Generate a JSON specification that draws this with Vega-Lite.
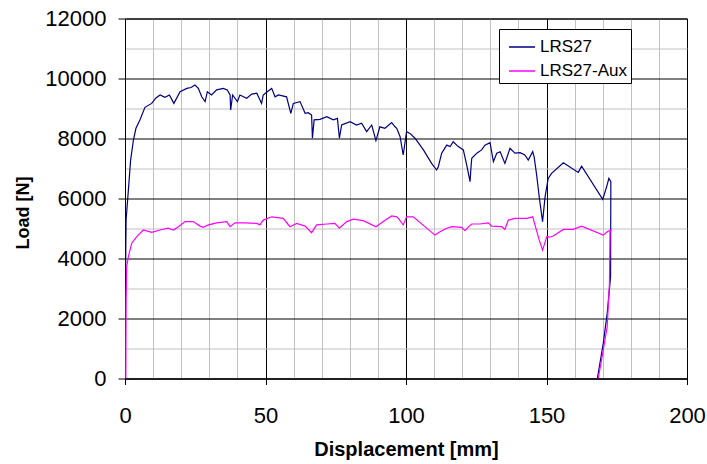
{
  "$schema": "https://vega.github.io/schema/vega-lite/v6.json",
  "width": 562,
  "height": 360,
  "autosize": "none",
  "padding": {"left": 125, "top": 18.5, "right": 20, "bottom": 85.5},
  "background": "white",
  "config": {
    "font": "Liberation Sans",
    "view": {"stroke": "black", "strokeWidth": 1}
  },
  "datasets": {
    "main": [
      {"s":"LRS27","x":0,"y":0},{"s":"LRS27","x":0.15,"y":2000},{"s":"LRS27","x":0.25,"y":4000},{"s":"LRS27","x":0.4,"y":5300},
      {"s":"LRS27","x":1.2,"y":6280},{"s":"LRS27","x":2.0,"y":7280},{"s":"LRS27","x":3.0,"y":7950},{"s":"LRS27","x":3.9,"y":8340},
      {"s":"LRS27","x":5.3,"y":8620},{"s":"LRS27","x":7.1,"y":9040},{"s":"LRS27","x":9.5,"y":9170},{"s":"LRS27","x":11,"y":9350},
      {"s":"LRS27","x":12.5,"y":9450},{"s":"LRS27","x":14.2,"y":9370},{"s":"LRS27","x":15.8,"y":9450},{"s":"LRS27","x":17.4,"y":9170},
      {"s":"LRS27","x":19.6,"y":9560},{"s":"LRS27","x":22,"y":9670},{"s":"LRS27","x":23.5,"y":9700},{"s":"LRS27","x":24.9,"y":9780},
      {"s":"LRS27","x":26.1,"y":9670},{"s":"LRS27","x":27.3,"y":9390},{"s":"LRS27","x":28.5,"y":9230},{"s":"LRS27","x":29.3,"y":9560},
      {"s":"LRS27","x":30.8,"y":9450},{"s":"LRS27","x":32.6,"y":9620},{"s":"LRS27","x":35,"y":9670},{"s":"LRS27","x":36.4,"y":9620},
      {"s":"LRS27","x":37.4,"y":9450},{"s":"LRS27","x":37.6,"y":8950},{"s":"LRS27","x":38.3,"y":9450},{"s":"LRS27","x":40,"y":9230},
      {"s":"LRS27","x":40.9,"y":9450},{"s":"LRS27","x":43.3,"y":9340},{"s":"LRS27","x":45.1,"y":9480},{"s":"LRS27","x":46.9,"y":9510},
      {"s":"LRS27","x":48.6,"y":9170},{"s":"LRS27","x":49.2,"y":9450},{"s":"LRS27","x":50.5,"y":9550},{"s":"LRS27","x":52.2,"y":9670},
      {"s":"LRS27","x":53.4,"y":9390},{"s":"LRS27","x":54.6,"y":9450},{"s":"LRS27","x":57.5,"y":9390},{"s":"LRS27","x":59,"y":8840},
      {"s":"LRS27","x":59.9,"y":9170},{"s":"LRS27","x":62.3,"y":9230},{"s":"LRS27","x":64.1,"y":8840},{"s":"LRS27","x":65.2,"y":8860},
      {"s":"LRS27","x":66.4,"y":8780},{"s":"LRS27","x":66.7,"y":8010},{"s":"LRS27","x":67.3,"y":8620},{"s":"LRS27","x":69.4,"y":8640},
      {"s":"LRS27","x":71.8,"y":8730},{"s":"LRS27","x":74.1,"y":8620},{"s":"LRS27","x":75.6,"y":8670},{"s":"LRS27","x":76.3,"y":8010},
      {"s":"LRS27","x":77.1,"y":8450},{"s":"LRS27","x":80.1,"y":8560},{"s":"LRS27","x":82.4,"y":8450},{"s":"LRS27","x":84.2,"y":8510},
      {"s":"LRS27","x":86,"y":8230},{"s":"LRS27","x":87.8,"y":8450},{"s":"LRS27","x":89.3,"y":7930},{"s":"LRS27","x":90.7,"y":8390},
      {"s":"LRS27","x":92.5,"y":8340},{"s":"LRS27","x":94.9,"y":8530},{"s":"LRS27","x":96.1,"y":8390},{"s":"LRS27","x":96.7,"y":8340},
      {"s":"LRS27","x":97.9,"y":8060},{"s":"LRS27","x":99,"y":7450},{"s":"LRS27","x":100.2,"y":8230},{"s":"LRS27","x":101.4,"y":8170},
      {"s":"LRS27","x":103.2,"y":8010},{"s":"LRS27","x":106.2,"y":7620},{"s":"LRS27","x":109.1,"y":7170},{"s":"LRS27","x":110.9,"y":6950},
      {"s":"LRS27","x":111.5,"y":7060},{"s":"LRS27","x":112.7,"y":7510},{"s":"LRS27","x":114.5,"y":7780},{"s":"LRS27","x":115.7,"y":7730},
      {"s":"LRS27","x":116.8,"y":7890},{"s":"LRS27","x":118.6,"y":7730},{"s":"LRS27","x":120.4,"y":7620},{"s":"LRS27","x":121.6,"y":7120},
      {"s":"LRS27","x":122.8,"y":6560},{"s":"LRS27","x":123.1,"y":7000},{"s":"LRS27","x":123.4,"y":7340},{"s":"LRS27","x":125.2,"y":7510},
      {"s":"LRS27","x":126.9,"y":7620},{"s":"LRS27","x":128.1,"y":7780},{"s":"LRS27","x":129.9,"y":7860},{"s":"LRS27","x":131.1,"y":7230},
      {"s":"LRS27","x":132.3,"y":7510},{"s":"LRS27","x":133.5,"y":7560},{"s":"LRS27","x":135.2,"y":7170},{"s":"LRS27","x":137,"y":7670},
      {"s":"LRS27","x":138.8,"y":7510},{"s":"LRS27","x":140.6,"y":7530},{"s":"LRS27","x":142.3,"y":7450},{"s":"LRS27","x":143.5,"y":7280},
      {"s":"LRS27","x":145.1,"y":7560},{"s":"LRS27","x":145.6,"y":7390},{"s":"LRS27","x":146.5,"y":6780},{"s":"LRS27","x":147.4,"y":6060},
      {"s":"LRS27","x":148.6,"y":5230},{"s":"LRS27","x":149.5,"y":6060},{"s":"LRS27","x":150.1,"y":6390},{"s":"LRS27","x":150.6,"y":6670},
      {"s":"LRS27","x":151.8,"y":6840},{"s":"LRS27","x":156,"y":7190},{"s":"LRS27","x":161.3,"y":6870},{"s":"LRS27","x":162.5,"y":7080},
      {"s":"LRS27","x":170,"y":5970},{"s":"LRS27","x":171.4,"y":6390},{"s":"LRS27","x":172.2,"y":6670},{"s":"LRS27","x":172.9,"y":6560},
      {"s":"LRS27","x":172.8,"y":3390},{"s":"LRS27","x":171.6,"y":2170},{"s":"LRS27","x":170.2,"y":1170},{"s":"LRS27","x":168.1,"y":0},

      {"s":"LRS27-Aux","x":0.3,"y":0},{"s":"LRS27-Aux","x":0.35,"y":1500},{"s":"LRS27-Aux","x":0.4,"y":2620},{"s":"LRS27-Aux","x":0.6,"y":3730},
      {"s":"LRS27-Aux","x":1.2,"y":4060},{"s":"LRS27-Aux","x":2.4,"y":4510},{"s":"LRS27-Aux","x":4.2,"y":4730},{"s":"LRS27-Aux","x":6.5,"y":4950},
      {"s":"LRS27-Aux","x":9.5,"y":4870},{"s":"LRS27-Aux","x":12.5,"y":4950},{"s":"LRS27-Aux","x":15.4,"y":5010},{"s":"LRS27-Aux","x":17.2,"y":4950},
      {"s":"LRS27-Aux","x":19,"y":5060},{"s":"LRS27-Aux","x":21.4,"y":5230},{"s":"LRS27-Aux","x":24.3,"y":5230},{"s":"LRS27-Aux","x":26.7,"y":5080},
      {"s":"LRS27-Aux","x":27.8,"y":5040},{"s":"LRS27-Aux","x":29.7,"y":5120},{"s":"LRS27-Aux","x":32.6,"y":5190},{"s":"LRS27-Aux","x":36.2,"y":5230},
      {"s":"LRS27-Aux","x":37.4,"y":5060},{"s":"LRS27-Aux","x":39.1,"y":5190},{"s":"LRS27-Aux","x":42.7,"y":5190},{"s":"LRS27-Aux","x":46.9,"y":5170},
      {"s":"LRS27-Aux","x":48,"y":5120},{"s":"LRS27-Aux","x":49.2,"y":5280},{"s":"LRS27-Aux","x":52.2,"y":5390},{"s":"LRS27-Aux","x":56.3,"y":5340},
      {"s":"LRS27-Aux","x":58.7,"y":5060},{"s":"LRS27-Aux","x":61.1,"y":5170},{"s":"LRS27-Aux","x":64.1,"y":5080},{"s":"LRS27-Aux","x":66.4,"y":4860},
      {"s":"LRS27-Aux","x":68.2,"y":5120},{"s":"LRS27-Aux","x":71.8,"y":5150},{"s":"LRS27-Aux","x":74.7,"y":5170},{"s":"LRS27-Aux","x":76.3,"y":5010},
      {"s":"LRS27-Aux","x":78.9,"y":5230},{"s":"LRS27-Aux","x":81.3,"y":5310},{"s":"LRS27-Aux","x":84.8,"y":5260},{"s":"LRS27-Aux","x":89.3,"y":5060},
      {"s":"LRS27-Aux","x":91.9,"y":5230},{"s":"LRS27-Aux","x":94.9,"y":5420},{"s":"LRS27-Aux","x":96.7,"y":5390},{"s":"LRS27-Aux","x":97.3,"y":5340},
      {"s":"LRS27-Aux","x":99,"y":5120},{"s":"LRS27-Aux","x":100.2,"y":5390},{"s":"LRS27-Aux","x":102.6,"y":5390},{"s":"LRS27-Aux","x":110.3,"y":4780},
      {"s":"LRS27-Aux","x":112.1,"y":4890},{"s":"LRS27-Aux","x":114.5,"y":5010},{"s":"LRS27-Aux","x":116.3,"y":5060},{"s":"LRS27-Aux","x":119.8,"y":5040},
      {"s":"LRS27-Aux","x":121,"y":4930},{"s":"LRS27-Aux","x":122.5,"y":5080},{"s":"LRS27-Aux","x":123.4,"y":5150},{"s":"LRS27-Aux","x":126.3,"y":5150},
      {"s":"LRS27-Aux","x":129.3,"y":5190},{"s":"LRS27-Aux","x":130.5,"y":5080},{"s":"LRS27-Aux","x":134.1,"y":5060},{"s":"LRS27-Aux","x":135.2,"y":4970},
      {"s":"LRS27-Aux","x":136.4,"y":5280},{"s":"LRS27-Aux","x":138.8,"y":5340},{"s":"LRS27-Aux","x":143,"y":5340},{"s":"LRS27-Aux","x":145.1,"y":5390},
      {"s":"LRS27-Aux","x":145.9,"y":5120},{"s":"LRS27-Aux","x":147.4,"y":4620},{"s":"LRS27-Aux","x":148.6,"y":4280},{"s":"LRS27-Aux","x":150.1,"y":4730},
      {"s":"LRS27-Aux","x":151.2,"y":4710},{"s":"LRS27-Aux","x":152.4,"y":4750},{"s":"LRS27-Aux","x":156,"y":4970},{"s":"LRS27-Aux","x":159.5,"y":4970},
      {"s":"LRS27-Aux","x":162.5,"y":5080},{"s":"LRS27-Aux","x":170.2,"y":4780},{"s":"LRS27-Aux","x":171.6,"y":4890},{"s":"LRS27-Aux","x":172.8,"y":4950},
      {"s":"LRS27-Aux","x":172.6,"y":4890},{"s":"LRS27-Aux","x":172.4,"y":3170},{"s":"LRS27-Aux","x":171.6,"y":1730},{"s":"LRS27-Aux","x":169.6,"y":620},
      {"s":"LRS27-Aux","x":168.4,"y":0}
    ]
  },
  "data": {"name": "main"},
  "encoding": {
    "x": {
      "field": "x", "type": "quantitative",
      "scale": {"domain": [0, 200], "nice": false, "zero": false},
      "axis": {
        "title": "Displacement [mm]",
        "values": [0,10,20,30,40,50,60,70,80,90,100,110,120,130,140,150,160,170,180,190,200],
        "format": "d",
        "labelExpr": "datum.value % 50 === 0 ? datum.label : ''",
        "labelFont": "Liberation Sans", "labelFontSize": 22, "labelColor": "black",
        "labelBaseline": "alphabetic", "labelPadding": 38, "labelFlush": false, "labelOverlap": false,
        "tickSize": 6,
        "tickColor": {"condition": {"test": "datum.value % 50 === 0", "value": "black"}, "value": "transparent"},
        "domainColor": "black",
        "grid": true,
        "gridColor": {"condition": {"test": "datum.value % 50 === 0", "value": "#000000"}, "value": "#c0c0c0"},
        "gridOpacity": 1,
        "titleFont": "Liberation Sans", "titleFontSize": 20, "titleFontWeight": "bold", "titleColor": "black",
        "titleBaseline": "alphabetic", "titleY": 77, "titleX": 281
      }
    },
    "y": {
      "field": "y", "type": "quantitative",
      "scale": {"domain": [0, 12000], "nice": false},
      "axis": {
        "title": "Load [N]",
        "values": [0,1000,2000,3000,4000,5000,6000,7000,8000,9000,10000,11000,12000],
        "format": "d",
        "labelExpr": "datum.value % 2000 === 0 ? datum.label : ''",
        "labelFont": "Liberation Sans", "labelFontSize": 22, "labelColor": "black",
        "labelPadding": 12, "labelFlush": false, "labelOverlap": false,
        "tickSize": 7,
        "tickColor": {"condition": {"test": "datum.value % 2000 === 0", "value": "black"}, "value": "transparent"},
        "domainColor": "black",
        "grid": true,
        "gridColor": {"condition": {"test": "datum.value % 2000 === 0", "value": "#000000"}, "value": "#c0c0c0"},
        "gridOpacity": 1,
        "titleFont": "Liberation Sans", "titleFontSize": 18, "titleFontWeight": "bold", "titleColor": "black",
        "titleAngle": -90, "titleBaseline": "alphabetic", "titleX": -97, "titleY": 194, "titleAlign": "center"
      }
    },
    "color": {
      "field": "s", "type": "nominal",
      "scale": {"domain": ["LRS27", "LRS27-Aux"], "range": ["#000080", "#ff00ff"]},
      "legend": {
        "title": null,
        "orient": "none", "legendX": 374, "legendY": 10.5,
        "fillColor": "white", "strokeColor": "black", "padding": 4,
        "symbolType": "stroke", "symbolSize": 676, "symbolStrokeWidth": 1.5, "symbolOffset": 5,
        "labelFont": "Liberation Sans", "labelFontSize": 17, "labelColor": "black",
        "labelOffset": 4, "rowPadding": 2
      }
    },
    "order": {"value": null}
  },
  "layer": [
    {"transform": [{"filter": "datum.s === 'LRS27'"}], "mark": {"type": "line", "strokeWidth": 1.2, "clip": true}},
    {"transform": [{"filter": "datum.s === 'LRS27-Aux'"}], "mark": {"type": "line", "strokeWidth": 1.2, "clip": true}}
  ]
}
